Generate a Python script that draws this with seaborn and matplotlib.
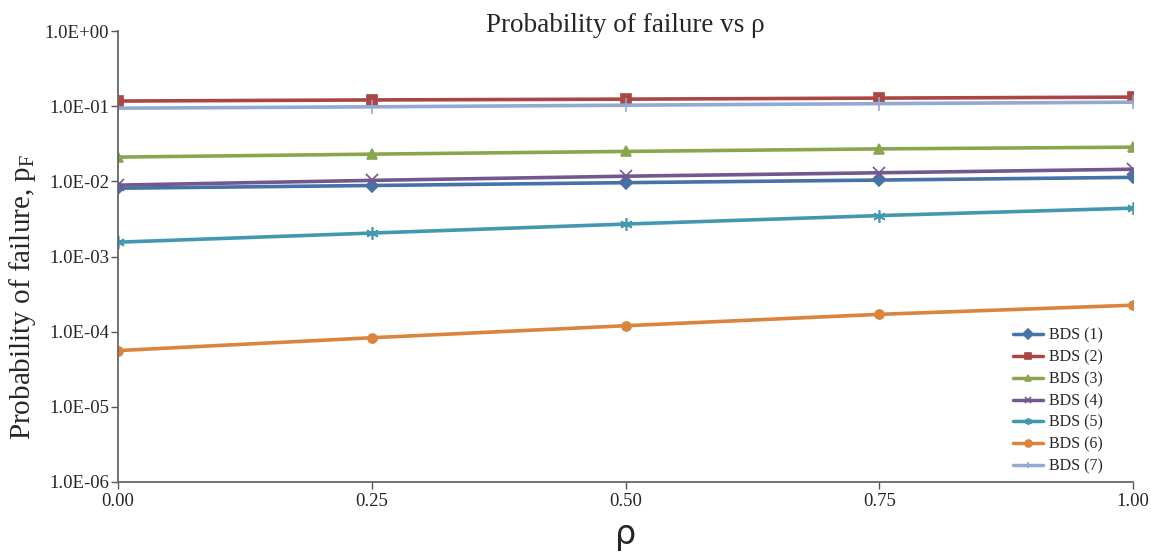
import matplotlib
matplotlib.use("Agg")
import matplotlib.pyplot as plt
import seaborn as sns
import pandas as pd

rho = [0.0, 0.25, 0.5, 0.75, 1.0]
bds1 = [0.0081, 0.0088, 0.0096, 0.0104, 0.0113]
bds2 = [0.117, 0.121, 0.124, 0.128, 0.132]
bds3 = [0.021, 0.023, 0.025, 0.027, 0.0285]
bds4 = [0.0089, 0.0103, 0.0117, 0.0130, 0.0145]
bds5 = [0.00155, 0.00205, 0.0027, 0.0035, 0.0044]
bds6 = [5.6e-5, 8.3e-5, 1.2e-4, 1.7e-4, 2.25e-4]
bds7 = [0.094, 0.098, 0.103, 0.108, 0.113]
names = ["BDS (1)", "BDS (2)", "BDS (3)", "BDS (4)", "BDS (5)", "BDS (6)", "BDS (7)"]
yticks = [1e0, 1e-1, 1e-2, 1e-3, 1e-4, 1e-5, 1e-6]
ytick_labels = ["1.0E+00", "1.0E-01", "1.0E-02", "1.0E-03", "1.0E-04", "1.0E-05", "1.0E-06"]
xticks = [0.0, 0.25, 0.5, 0.75, 1.0]
xtick_labels = ["0.00", "0.25", "0.50", "0.75", "1.00"]

series = [bds1, bds2, bds3, bds4, bds5, bds6, bds7]

sns.set_theme(style="white")
plt.rcParams["font.family"] = ["Liberation Serif", "DejaVu Serif"]
plt.rcParams["mathtext.fontset"] = "custom"
plt.rcParams["mathtext.rm"] = "Liberation Serif"
plt.rcParams["mathtext.it"] = "Liberation Serif"

colors = ["#4572A7", "#AA4643", "#89A54E", "#71588F", "#4198AF", "#DB843D", "#93A9CF"]
markers = ["D", "s", "^", "x", (6, 2, 0), "o", "|"]
msizes = [6.5, 6.5, 7.5, 8, 9, 6.5, 10]

fig = plt.figure(figsize=(11.51, 5.53), dpi=100)
ax = fig.add_axes([118 / 1151, 1 - 482 / 553, (1133 - 118) / 1151, (482 - 31) / 553])

for n, s, c, m, ms in zip(names, series, colors, markers, msizes):
    df = pd.DataFrame({"rho": rho, "pF": s})
    sns.lineplot(data=df, x="rho", y="pF", color=c, marker=m, markersize=ms,
                 markeredgecolor=c, markerfacecolor=c, markeredgewidth=1.2,
                 linewidth=2.6, label=n, ax=ax)

ax.set_yscale("log")
ax.set_ylim(1e-6, 1e0)
ax.set_xlim(0, 1)
ax.set_yticks(yticks)
ax.set_yticklabels(ytick_labels)
ax.minorticks_off()
ax.set_xticks(xticks)
ax.set_xticklabels(xtick_labels)
ax.tick_params(axis="both", direction="out", length=5, width=1, color="#555555",
               labelsize=13.5, bottom=True, left=True, pad=3)
ax.tick_params(axis="y", pad=1.5)

for side in ["top", "right"]:
    ax.spines[side].set_visible(False)
for side in ["left", "bottom"]:
    ax.spines[side].set_color("#666666")
    ax.spines[side].set_linewidth(1.3)

ax.set_title("Probability of failure vs ρ", fontsize=19.5, pad=-1)
ax.set_xlabel("ρ", fontsize=24, labelpad=6, family=["DejaVu Sans"])
ax.set_ylabel("Probability of failure, p$_{\\mathrm{F}}$", fontsize=21)
ax.yaxis.set_label_coords(-0.079, 0.41)

leg = ax.legend(loc="lower right", bbox_to_anchor=(0.984, -0.015), frameon=False,
                fontsize=11.5, handlelength=1.85, labelspacing=0.36, handletextpad=0.35)
for h in leg.legend_handles:
    h.set_linewidth(2.5)
    h.set_markersize(5)

fig.savefig("out.png", dpi=100)
